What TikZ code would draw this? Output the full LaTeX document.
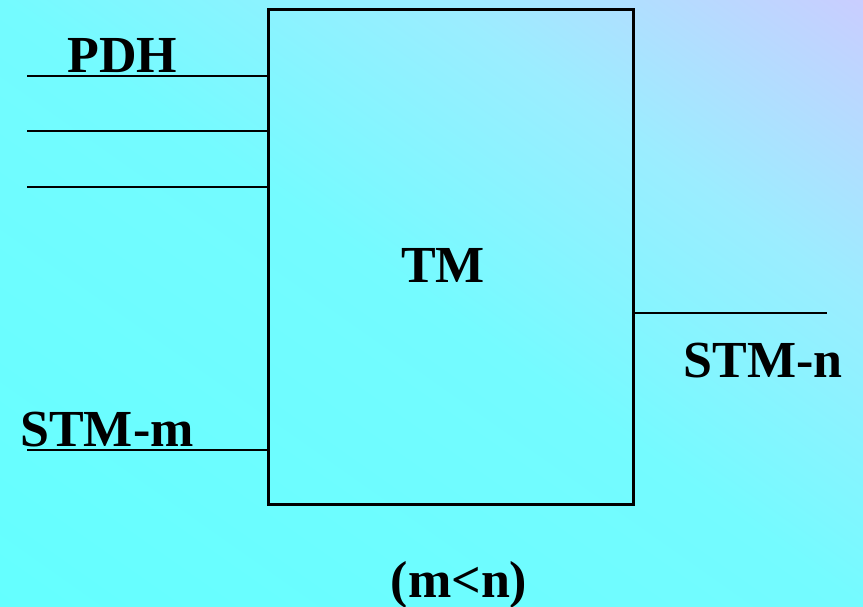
\documentclass[tikz,border=0pt]{standalone}
\usepackage{fontspec}
\setmainfont{Liberation Serif}
\definecolor{bgA}{RGB}{100,255,255}
\definecolor{bgB}{RGB}{116,251,255}
\definecolor{bgC}{RGB}{155,237,255}
\definecolor{bgD}{RGB}{202,205,255}
\pgfdeclarehorizontalshading{bgshade}{100bp}{color(0bp)=(bgA); color(25bp)=(bgA); color(50bp)=(bgB); color(62.5bp)=(bgC); color(75bp)=(bgD); color(100bp)=(bgD)}
\tikzset{
  lbl/.style={anchor=base, inner sep=0pt, font=\fontsize{52}{60}\selectfont\bfseries},
  tmbox/.style={draw, line width=3pt, minimum width=365pt, minimum height=495pt, inner sep=0pt, outer sep=0pt},
  wire/.style={draw, line width=2.5pt}
}
\begin{document}
\begin{tikzpicture}[x=1pt,y=1pt]
\useasboundingbox (0,0) rectangle (863,607);
\begin{scope}
  \clip (0,0) rectangle (863,607);
  \begin{scope}[transform canvas={rotate around={54.88:(0,0)}}]
    \shade[shading=bgshade] (-3,-720) rectangle (996,720);
  \end{scope}
\end{scope}
\node[tmbox] (box) at (450.5,350) {};
\node[lbl] (tm) at (443,324) {TM};
\coordinate (p1) at (27,531);
\coordinate (p2) at (27,476);
\coordinate (p3) at (27,420);
\coordinate (pm) at (27,157);
\coordinate (pn) at (827,294);
\draw[wire] (p1) -- (p1 -| box.west);
\draw[wire] (p2) -- (p2 -| box.west);
\draw[wire] (p3) -- (p3 -| box.west);
\draw[wire] (pm) -- (pm -| box.west);
\draw[wire] (pn -| box.east) -- (pn);
\node[lbl] (pdh) at (122.5,534) {PDH};
\node[lbl] (stmm) at (107,160) {STM-m};
\node[lbl] (stmn) at (763,229) {STM-n};
\node[lbl] (cond) at (459,9) {(m<n)};
\end{tikzpicture}
\end{document}
